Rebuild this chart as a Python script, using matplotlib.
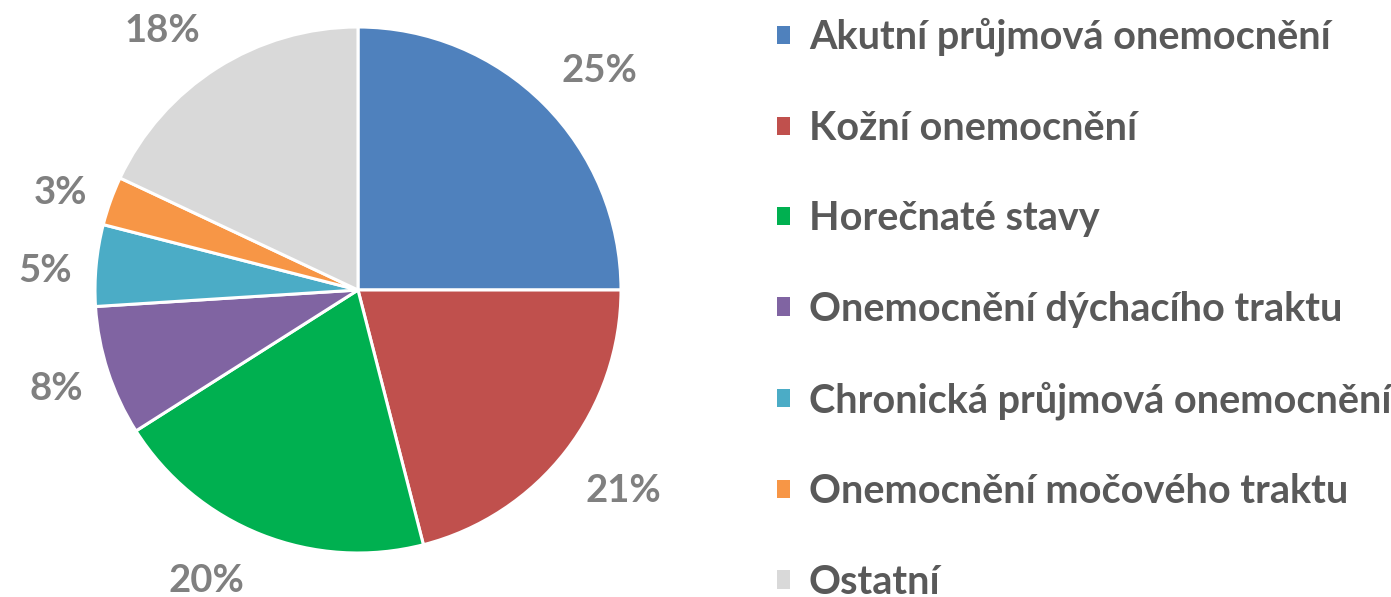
import matplotlib
matplotlib.use('Agg')
import matplotlib.pyplot as plt
import numpy as np

plt.rcParams['font.family'] = ['Lato', 'DejaVu Sans']

# data
categories = ['Akutní průjmová onemocnění', 'Kožní onemocnění', 'Horečnaté stavy',
              'Onemocnění dýchacího traktu', 'Chronická průjmová onemocnění',
              'Onemocnění močového traktu', 'Ostatní']
shares = [25, 21, 20, 8, 5, 3, 18]
colors = ['#4F81BD', '#C0504D', '#00B050', '#8064A2', '#4BACC6', '#F79646', '#D9D9D9']

# label placement tweaks (Excel "best fit" look): angle nudge in degrees, radial distance
label_nudge = [-2.4, 1.0, -6.2, -0.4, 1.4, 1.2, 4.4]
label_dist = [1.246, 1.258, 1.238, 1.205, 1.193, 1.195, 1.244]

W, H = 1391, 597
fig = plt.figure(figsize=(W / 100, H / 100), dpi=100)

# pie centre ~ (358, 290) px, radius ~ 263 px
cx, cy, r = 358, 290, 263
ax = fig.add_axes([(cx - r) / W, (H - cy - r) / H, 2 * r / W, 2 * r / H])

wedges, texts = ax.pie(shares, colors=colors, startangle=90, counterclock=False,
                       labels=[f'{v}%' for v in shares],
                       wedgeprops=dict(edgecolor='white', linewidth=2.2),
                       textprops=dict(fontsize=27.5, fontweight='bold', color='#808080'),
                       radius=1)
for w, t, dn, dd in zip(wedges, texts, label_nudge, label_dist):
    ang = np.radians((w.theta1 + w.theta2) / 2 + dn)
    t.set_position((dd * np.cos(ang), dd * np.sin(ang) - 0.012))
    t.set_ha('center')
    t.set_va('center')
ax.set_xlim(-1, 1)
ax.set_ylim(-1, 1)
ax.axis('off')

leg = fig.legend(wedges, categories, loc='upper left',
                 bbox_to_anchor=(757 / W, 1 - (-2) / H), frameon=False,
                 prop=dict(size=28.5, weight='bold'), labelcolor='#595959',
                 handlelength=0.33, handleheight=0.33, handletextpad=0.48,
                 labelspacing=1.35, borderpad=0)
for h in leg.legend_handles:
    h.set_edgecolor('none')

fig.savefig('out.png', dpi=100)
